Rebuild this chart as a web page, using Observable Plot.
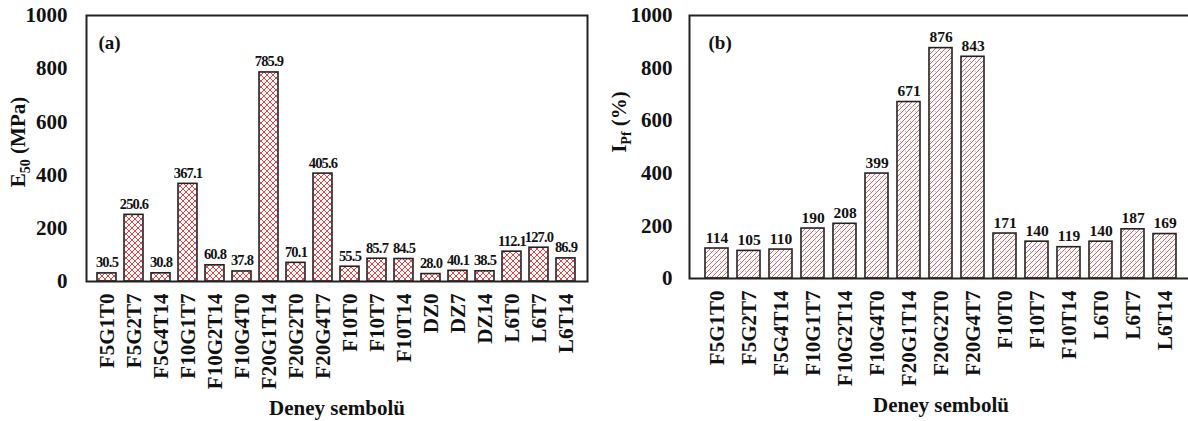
<!DOCTYPE html>
<html><head><meta charset="utf-8">
<script src="https://cdn.jsdelivr.net/npm/d3@7"></script>
<script src="https://cdn.jsdelivr.net/npm/@observablehq/plot@0.6"></script>
<style>
html,body{margin:0;padding:0;background:#fff;overflow:hidden;}
#wrap{display:flex;width:1200px;}
#wrap svg{display:block;}
</style></head><body><div id="wrap"></div>
<script>
const catsA = ["F5G1T0","F5G2T7","F5G4T14","F10G1T7","F10G2T14","F10G4T0","F20G1T14","F20G2T0","F20G4T7","F10T0","F10T7","F10T14","DZ0","DZ7","DZ14","L6T0","L6T7","L6T14"];
const valsA = [30.5,250.6,30.8,367.1,60.8,37.8,785.9,70.1,405.6,55.5,85.7,84.5,28.0,40.1,38.5,112.1,127.0,86.9];
const catsB = ["F5G1T0","F5G2T7","F5G4T14","F10G1T7","F10G2T14","F10G4T0","F20G1T14","F20G2T0","F20G4T7","F10T0","F10T7","F10T14","L6T0","L6T7","L6T14"];
const valsB = [114,105,110,190,208,399,671,876,843,171,140,119,140,187,169];
const yTicks = [0,200,400,600,800,1000];
const xTitle = "Deney sembolü";

const FONT = "Liberation Serif, Times New Roman, serif";

function addDefs(svg) {
  const defs = d3.select(svg).insert("defs", ":first-child");
  const pa = defs.append("pattern").attr("id","hatchA").attr("patternUnits","userSpaceOnUse").attr("width",6).attr("height",6);
  pa.append("rect").attr("width",6).attr("height",6).attr("fill","#fff");
  pa.append("path").attr("d","M0,6 L6,0 M-1,1 L1,-1 M5,7 L7,5").attr("stroke","#e23a3a").attr("stroke-width",1);
  pa.append("path").attr("d","M0,0 L6,6 M-1,5 L1,7 M5,-1 L7,1").attr("stroke","#e23a3a").attr("stroke-width",0.9);
  const pb = defs.append("pattern").attr("id","hatchB").attr("patternUnits","userSpaceOnUse").attr("width",5).attr("height",5);
  pb.append("rect").attr("width",5).attr("height",5).attr("fill","#fff");
  pb.append("path").attr("d","M0,5 L5,0 M-1,1 L1,-1 M4,6 L6,4").attr("stroke","#d4636c").attr("stroke-width",1);
  pb.append("path").attr("d","M1,1 L2,2").attr("stroke","#e7a4a8").attr("stroke-width",0.8);
}

function panel(o) {
  const data = o.cats.map((c,i)=>({c, v:o.vals[i]}));
  const svg = Plot.plot({
    width:o.width, height:421, marginTop:15, marginBottom:o.marginBottom, marginLeft:o.marginLeft, marginRight:o.marginRight,
    style:{fontFamily:FONT, background:"transparent", overflow:"visible", color:"#111"},
    x:{domain:o.cats, padding:o.padding, axis:null},
    y:{domain:[0,1000], axis:null},
    marks:[
      Plot.barY(data,{x:"c", y:"v", fill:`url(#${o.pattern})`, stroke:"#222", strokeWidth:1.6}),
      Plot.text(data,{x:"c", y:"v", text:d=>o.fmt(d.v), dy:-6, lineAnchor:"bottom", fontSize:o.valSize, fontWeight:"bold", fill:"#111", className:"vals"}),
      Plot.axisY({ticks:yTicks, tickSize:0, tickPadding:o.tickPad, fontSize:21, fontWeight:"bold", label:null, tickFormat:d=>String(d)}),
      Plot.axisX({tickRotate:-90, tickSize:0, tickPadding:12, fontSize:21, fontWeight:"bold", label:null}),
      Plot.text([o.tag],{frameAnchor:"top-left", text:d=>d, dx:o.tagDx, dy:27, lineAnchor:"middle", fontSize:19, fontWeight:"bold", fill:"#111"}),
      Plot.text([xTitle],{frameAnchor:"bottom", text:d=>d, dy:127, lineAnchor:"middle", fontSize:21, fontWeight:"bold", fill:"#111"}),
      Plot.frame({stroke:"#222", strokeWidth:2})
    ]
  });
  addDefs(svg);
  d3.select(svg).selectAll(".vals text").attr("letter-spacing", o.valSpacing);
  const t = d3.select(svg).append("text")
    .attr("transform",`translate(${o.ylx},${o.yly}) rotate(-90)`)
    .attr("text-anchor","middle").attr("font-weight","bold").attr("font-size",21)
    .attr("font-family",FONT).attr("fill","#111");
  t.append("tspan").text(o.ylMain);
  t.append("tspan").attr("font-size",14).attr("dy",5).text(o.ylSub);
  t.append("tspan").attr("dy",-5).text(o.ylRest);
  return svg;
}

const wrap = document.getElementById("wrap");
wrap.appendChild(panel({cats:catsA, vals:valsA, fmt:d3.format(".1f"), width:594, marginLeft:86, marginRight:7, marginBottom:140,
  padding:0.29, pattern:"hatchA", tickPad:19, tag:"(a)", tagDx:12, ylx:25, yly:142, ylMain:"E", ylSub:"50", ylRest:" (MPa)", valSize:14.5, valSpacing:-0.8}));
wrap.appendChild(panel({cats:catsB, vals:valsB, fmt:d3.format("d"), width:600, marginLeft:95, marginRight:2, marginBottom:143,
  padding:0.27, pattern:"hatchB", tickPad:17, tag:"(b)", tagDx:19, ylx:32, yly:122, ylMain:"I", ylSub:"Pf", ylRest:" (%)", valSize:15.5, valSpacing:0}));
</script></body></html>
